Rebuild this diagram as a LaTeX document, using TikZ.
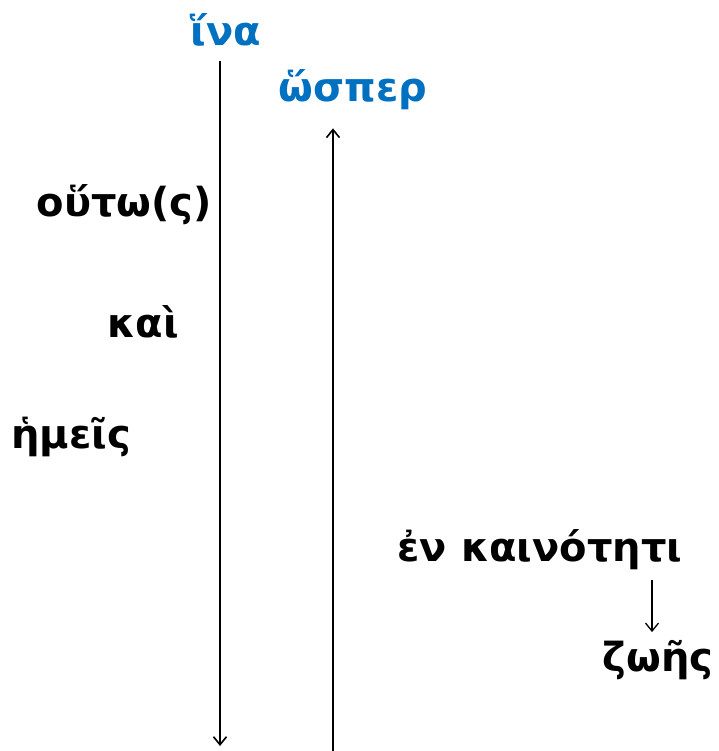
\documentclass[tikz,border=0pt]{standalone}
\usepackage{fontspec}
\setmainfont{DejaVu Sans}
\usepackage{tikz}
\usetikzlibrary{arrows.meta,positioning}
\definecolor{GreekBlue}{HTML}{0070C0}
\tikzset{
	word/.style={font=\bfseries\fontsize{40}{46}\selectfont,inner sep=0pt},
	keyword/.style={word,text=GreekBlue},
	flow/.style={line width=1.6pt,-{Straight Barb[length=8pt,width=13pt]}}
}

\begin{document}
\begin{tikzpicture}[x=1pt,y=-1pt]
		\useasboundingbox (0,0) rectangle (718,751);
		\node[keyword] (ina) at (226,30) {ἵνα};
		\node[keyword] (hosper) at (353,90) {ὥσπερ};
		\node[word,anchor=east] (houtos) at (212,205) {οὕτω(ς)};
		\node[word] (kai) at (143,322) {καὶ};
		\node[word,anchor=west] (hemeis) at (11,437) {ἡμεῖς};
		\node[word] (kainoteti) at (540,550) {ἐν καινότητι};
		\node[word] (zoes) at (658,660) {ζωῆς};
		\coordinate (inaend) at (220,746);
		\coordinate (hosperstart) at (333,751);
		\draw[flow] ([yshift=-14pt]ina.south -| inaend) -- (inaend);
		\draw[flow] (hosperstart) -- ([yshift=-18pt]hosper.south -| hosperstart);
		\draw[flow,line width=1.3pt] ([yshift=-10pt]kainoteti.south -| 652,0) -- ([yshift=8pt]zoes.north -| 652,0);
	\end{tikzpicture}
\end{document}
